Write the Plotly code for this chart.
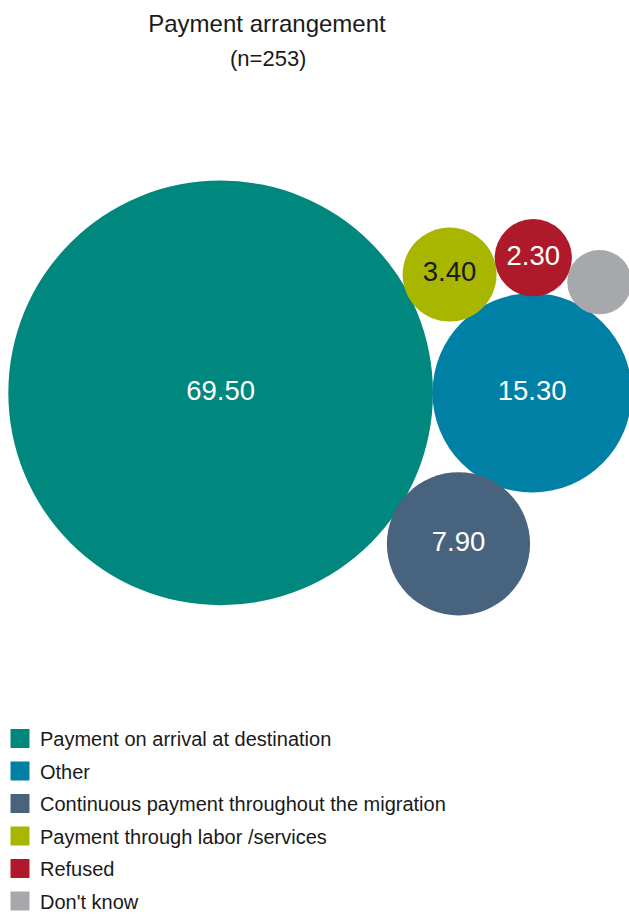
import math
import plotly.graph_objects as go

# Payment arrangement shares (percent of respondents, n=253)
categories = [
    "Payment on arrival at destination",
    "Other",
    "Continuous payment throughout the migration",
    "Payment through labor /services",
    "Refused",
    "Don't know",
]
values = [69.5, 15.3, 7.9, 3.4, 2.3, 1.6]
colors = ["#00877E", "#0080A4", "#48637E", "#A9B600", "#AF1A2B", "#A7A8AC"]
label_colors = ["#FFFFFF", "#FFFFFF", "#FFFFFF", "#1A1A1A", "#FFFFFF", "#FFFFFF"]
sample_note = "(n=253)"

# Bubble area is proportional to the value
RADIUS_PER_SQRT = 25.47          # px per sqrt(percent)
ORIGIN = (220.0, 402.0)          # centre of the largest bubble (px)
MIN_LABEL = 2.0                  # smaller bubbles are left unlabelled

# Packing: each bubble after the first two touches two earlier ones.
# (anchor a, anchor b, side) ; side picks which of the two tangent spots
placement = {2: (0, 1, +1), 3: (0, 1, -1), 4: (3, 1, -1), 5: (4, 1, -1)}


def tangent_center(a, b, r, side):
    ax, ay, ar = a
    bx, by, br = b
    da, db = ar + r, br + r
    dx, dy = bx - ax, by - ay
    d = math.hypot(dx, dy)
    t = (da ** 2 - db ** 2 + d ** 2) / (2 * d)
    h = math.sqrt(max(da ** 2 - t ** 2, 0.0))
    ux, uy = dx / d, dy / d
    return ax + t * ux - side * h * uy, ay + t * uy + side * h * ux


radii = [RADIUS_PER_SQRT * math.sqrt(v) for v in values]
circles = [(ORIGIN[0], ORIGIN[1], radii[0]),
           (ORIGIN[0] + radii[0] + radii[1], ORIGIN[1], radii[1])]
for i in range(2, len(values)):
    a, b, side = placement[i]
    cx, cy = tangent_center(circles[a], circles[b], radii[i], side)
    circles.append((cx, cy, radii[i]))

fig = go.Figure()

for name, v, (cx, cy, r), col, lcol in zip(categories, values, circles, colors, label_colors):
    fig.add_trace(go.Scatter(
        x=[cx], y=[cy],
        mode="markers+text" if v >= MIN_LABEL else "markers",
        marker=dict(size=2 * r, sizemode="diameter", color=col, line=dict(width=0), opacity=1),
        text=[f"{v:.2f}"] if v >= MIN_LABEL else None,
        textposition="middle center",
        textfont=dict(family="Liberation Sans, Arial, sans-serif", size=27.5, color=lcol),
        name=name, legendgroup=name, showlegend=False,
        hovertemplate=f"{name}: {v:.2f}%<extra></extra>",
        cliponaxis=True,
    ))

# Square legend keys
for name, col in zip(categories, colors):
    fig.add_trace(go.Scatter(
        x=[None], y=[None], mode="markers",
        marker=dict(symbol="square", size=16, color=col, line=dict(width=3, color=col)),
        name=name, legendgroup=name, showlegend=True,
    ))

W, H = 629, 921
TITLE_X = 267 / W
fig.update_layout(
    width=W, height=H,
    margin=dict(l=0, r=0, t=0, b=0),
    paper_bgcolor="white", plot_bgcolor="white",
    font=dict(family="Liberation Sans, Arial, sans-serif", color="#1A1A1A"),
    title=dict(
        text="Payment arrangement",
        x=TITLE_X, xanchor="center", xref="container",
        y=1 - 24 / H, yanchor="middle", yref="container",
        font=dict(size=24, color="#1A1A1A"),
    ),
    annotations=[dict(
        text=sample_note, showarrow=False,
        x=TITLE_X, xref="paper", xanchor="center",
        y=1 - 60 / H, yref="paper", yanchor="middle",
        font=dict(size=22, color="#1A1A1A"),
    )],
    xaxis=dict(range=[0, W], visible=False, fixedrange=True),
    yaxis=dict(range=[H, 0], visible=False, fixedrange=True),
    showlegend=True,
    legend=dict(
        x=-1.5 / W, xanchor="left", y=1 - 736 / H, yanchor="top",
        orientation="v", traceorder="grouped", tracegroupgap=3.5,
        font=dict(size=20, color="#1A1A1A"),
        bgcolor="rgba(0,0,0,0)", borderwidth=0,
        itemclick="toggle",
    ),
)

fig.write_html("out.html")
